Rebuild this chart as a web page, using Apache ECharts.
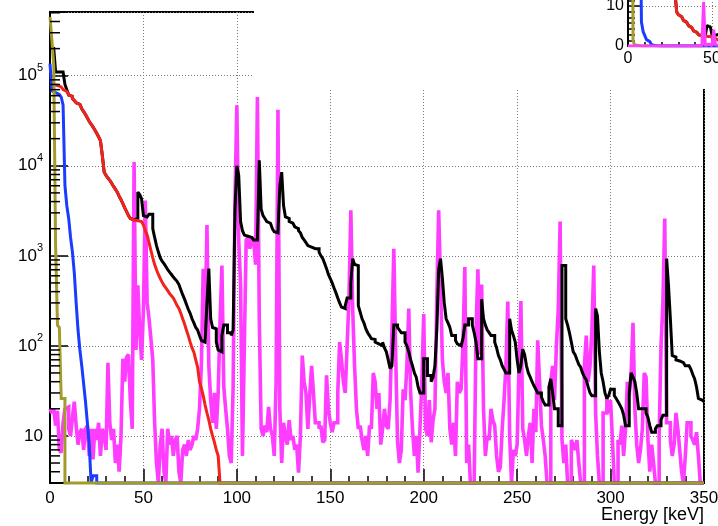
<!DOCTYPE html>
<html><head><meta charset="utf-8">
<script src="https://cdn.jsdelivr.net/npm/echarts@6/dist/echarts.min.js"></script>
<style>html,body{margin:0;padding:0;background:#fff}#c{width:718px;height:526px}</style>
</head><body><div id="c"></div>
<script>
// ---- data (counts per 1 keV bin, starting at 0 keV) ----
const BIN_KEV = 1;
const X_MAX = 350;
const xTickLabels = [0, 50, 100, 150, 200, 250, 300, 350];
const yDecades = [10, 100, 1000, 10000, 100000];
const insetYTicks = [0, 10];
const xTitle = 'Energy [keV]';

const oliveCounts = [4.5e5, 2.5e5, 1.3e5, 1.3e3, 170, 160, 26, 26];

const blueCounts = [1.36e5, 6.8e4, 6.5e4, 6.3e4, 6.2e4, 6.0e4, 5.8e4, 4.7e4, 6e3, 3.6e3,
  2.6e3, 1.6e3, 1.1e3, 650, 300, 150, 90, 60, 38, 24,
  14, 8, 0, 3.6, 3.6];

const redCounts = [8.1e4, 8.0e4, 7.9e4, 7.8e4, 7.6e4, 7.5e4, 7.2e4, 7.0e4, 6.7e4, 6.4e4,
  6.1e4, 5.9e4, 5.6e4, 5.3e4, 5.0e4, 4.8e4, 4.6e4, 4.3e4, 4.0e4, 3.7e4,
  3.4e4, 3.1e4, 2.9e4, 2.7e4, 2.5e4, 2.3e4, 2.1e4, 1.9e4, 1.3e4, 8.5e3,
  7.8e3, 7.3e3, 6.9e3, 6.4e3, 5.9e3, 5.5e3, 5.1e3, 4.6e3, 4.2e3, 3.8e3,
  3.4e3, 3.1e3, 2.8e3, 2.6e3, 2.5e3, 2.45e3, 2.45e3, 2.4e3, 2.4e3, 2.3e3,
  2.2e3, 1.9e3, 1.7e3, 1.4e3, 1150, 950, 800, 700, 620, 560,
  510, 470, 440, 410, 380, 360, 340, 310, 280, 260,
  230, 200, 175, 150, 130, 110, 95, 85, 70, 58,
  40, 34, 28, 22, 18, 15, 12, 10, 8.5, 7,
  6];

const blackCounts = [2e5, 2e5, 2e5, 1.1e5, 1.1e5, 1.1e5, 1.1e5, 1.1e5, 8e4, 7e4,
  6.1e4, 5.9e4, 5.6e4, 5.3e4, 5.0e4, 4.8e4, 4.6e4, 4.3e4, 4.0e4, 3.7e4,
  3.4e4, 3.1e4, 2.9e4, 2.7e4, 2.5e4, 2.3e4, 2.1e4, 1.9e4, 1.3e4, 8.5e3,
  7.8e3, 7.3e3, 6.9e3, 6.4e3, 5.9e3, 5.5e3, 5.1e3, 4.6e3, 4.2e3, 3.8e3,
  3.4e3, 3.1e3, 2.8e3, 2.6e3, 2.5e3, 2.5e3, 2.6e3, 5.1e3, 4.8e3, 4.3e3,
  2.8e3, 2.7e3, 2.6e3, 2.9e3, 2.9e3, 2.0e3, 1.6e3, 1.3e3, 1.1e3, 950,
  870, 820, 760, 700, 660, 620, 580, 550, 520, 480,
  420, 370, 330, 290, 255, 230, 200, 180, 160, 150,
  130, 115, 110, 105, 300, 720, 200, 160, 155, 110,
  90, 86, 130, 170, 170, 140, 140, 130, 150, 3.3e3,
  1.0e4, 7.8e3, 2.4e3, 1.9e3, 1.7e3, 1.65e3, 1.6e3, 1.6e3, 1.6e3, 1.5e3,
  1.5e3, 1.5e3, 1.15e4, 3.3e3, 2.8e3, 2.6e3, 2.4e3, 2.3e3, 2.2e3, 2.0e3,
  1.85e3, 1.8e3, 1.8e3, 6e3, 8.5e3, 3.6e3, 2.7e3, 2.6e3, 2.4e3, 2.3e3,
  2.2e3, 2.1e3, 2.0e3, 1.9e3, 1.8e3, 1.6e3, 1.5e3, 1.4e3, 1.3e3, 1.25e3,
  1.2e3, 1.2e3, 1.2e3, 1.2e3, 1.1e3, 1.0e3, 930, 820, 720, 620,
  560, 500, 440, 390, 340, 300, 270, 260, 280, 340,
  340, 500, 930, 800, 780, 280, 237, 200, 180, 155,
  140, 130, 120, 118, 110, 105, 100, 100, 110, 95,
  86, 70, 56, 60, 170, 170, 160, 150, 140, 140,
  110, 100, 86, 70, 60, 50, 45, 35, 30, 30,
  72, 72, 47, 47, 40, 45, 60, 150, 700, 930,
  560, 300, 200, 180, 160, 130, 130, 115, 105, 100,
  100, 120, 170, 170, 200, 200, 170, 140, 110, 72,
  72, 330, 200, 170, 150, 140, 130, 130, 110, 95,
  78, 70, 60, 55, 50, 50, 200, 150, 130, 110,
  70, 50, 60, 92, 80, 60, 50, 45, 40, 36,
  33, 30, 30, 27, 24, 22, 22, 35, 43, 30,
  20, 20, 13, 13, 780, 780, 200, 170, 140, 110,
  86, 80, 70, 62, 58, 50, 45, 42, 35, 30,
  28, 28, 260, 215, 86, 50, 40, 30, 26, 28,
  33, 33, 28, 26, 24, 22, 20, 17, 13, 13,
  30, 50, 45, 40, 30, 20, 20, 20, 20, 18,
  16, 13, 11, 11, 12, 13, 13, 15, 17, 17,
  930, 470, 200, 78, 75, 70, 68, 65, 65, 62,
  60, 60, 58, 55, 48, 43, 35, 26, 25, 24];

const magentaCounts = [20, 18, 20, 13, 19, 7, 6.5, 14, 20, 21,
  12, 10, 16, 24, 13, 8, 11, 12, 7, 12,
  13, 6, 12, 5.5, 12, 9, 14, 6, 12, 10,
  7, 65, 14, 9, 12, 5, 8, 4, 10, 72,
  40, 75, 80, 25, 12, 1.1e4, 90, 470, 150, 70,
  250, 4100, 300, 200, 120, 70, 14, 5, 0, 8,
  12, 4, 0, 12, 8, 10, 6, 9, 10, 4,
  0, 7, 8, 6, 9, 7, 8, 10, 9, 12,
  20, 60, 720, 150, 2200, 60, 25, 14, 30, 12,
  30, 180, 780, 35, 20, 12, 6, 5, 35, 4300,
  4.7e4, 1500, 470, 6, 100, 1500, 1600, 1200, 1600, 1500,
  800, 5.8e4, 200, 12, 10, 13, 11, 21, 12, 10,
  6, 40, 4.2e4, 20, 5, 14, 10, 8, 15, 9,
  10, 7, 8, 3.9, 10, 78, 40, 30, 12, 28,
  60, 30, 14, 14, 12, 13, 8.5, 9, 47, 20,
  14, 11, 14, 14, 30, 110, 70, 40, 30, 100,
  330, 3200, 250, 60, 20, 12, 13, 9, 7, 10,
  6, 13, 12, 50, 40, 20, 30, 8, 12, 20,
  13, 12, 25, 150, 1200, 80, 8.5, 5, 7, 33,
  25, 60, 260, 30, 12, 6, 10, 3.9, 12, 40,
  225, 12, 10, 25, 8.5, 15, 20, 330, 3200, 500,
  70, 40, 30, 50, 12, 8, 14, 6, 40, 30,
  33, 100, 750, 5, 8, 3, 0, 0, 150, 710,
  80, 480, 20, 6, 10, 9, 20, 15, 13, 6,
  4, 4.5, 12, 25, 60, 310, 10, 0, 7, 6,
  8, 60, 315, 12, 9, 6, 10, 14, 5, 20,
  11, 115, 40, 13, 9, 6, 0, 0, 40, 60,
  25, 100, 250, 2400, 9, 5, 8, 0, 0, 9,
  8, 7, 9, 5, 0, 0, 60, 130, 40, 60,
  150, 780, 18, 6, 0, 0, 18, 18, 28, 18,
  25, 9, 0, 0, 9, 8, 13, 6, 12, 40,
  28, 50, 180, 20, 8, 5, 7, 12, 50, 45,
  9, 4, 8, 5, 0, 0, 10, 100, 300, 2600,
  14, 14, 9, 6, 8, 18, 12, 7, 4, 0,
  6, 14, 14, 10, 9, 8, 11, 6, 0, 0];

// ---- helpers ----
const Y_MIN = 3, Y_MAX = 5.1e5;
const FONT = "'Liberation Sans', Arial, Helvetica, sans-serif";
const COLORS = {magenta: '#ff3dff', black: '#000000', red: '#f2231c', blue: '#1a3cff', olive: '#a39b2c'};

function histPoints(counts, scale, floor) {
  const n = X_MAX / BIN_KEV;
  const pts = [];
  for (let i = 0; i < n; i++) {
    const c = i < counts.length ? counts[i] / scale : 0;
    pts.push([i * BIN_KEV, Math.max(c, floor)]);
  }
  pts.push([X_MAX, pts[pts.length - 1][1]]);
  return pts;
}

const minorVals = [];
for (let e = 0; e <= 5; e++) {
  for (let m = 2; m <= 9; m++) {
    const v = m * Math.pow(10, e);
    if (v > Y_MIN && v < Y_MAX) minorVals.push([0, v]);
  }
}

function mainSeries(name, counts, color, width) {
  return {
    name, type: 'line', xAxisIndex: 0, yAxisIndex: 0, step: 'end', showSymbol: false,
    clip: false, data: histPoints(counts, 1, Y_MIN),
    lineStyle: {color, width: width, join: 'miter', miterLimit: 2}, itemStyle: {color}, z: 3
  };
}
function insetSeries(name, counts, color) {
  return {
    name, type: 'line', xAxisIndex: 1, yAxisIndex: 1, step: 'end', showSymbol: false,
    clip: true, data: histPoints(counts, 1000, 0),
    lineStyle: {color, width: 3}, itemStyle: {color}, z: 120
  };
}

const dotted = {color: '#7a7a7a', type: [1, 2], width: 1};

const chart = echarts.init(document.getElementById('c'), null, {renderer: 'canvas'});
chart.setOption({
  animation: false,
  backgroundColor: '#fff',
  grid: [
    {left: 50, top: 12, width: 654, height: 471, show: true, borderColor: '#000', borderWidth: 2,
      backgroundColor: 'transparent', containLabel: false, outerBoundsMode: 'none'},
    {left: 628, top: -34, width: 588, height: 80, show: false, containLabel: false, outerBoundsMode: 'none'}
  ],
  xAxis: [
    {
      type: 'value', gridIndex: 0, min: xTickLabels[0], max: xTickLabels[xTickLabels.length - 1], interval: 50,
      axisLine: {show: true, onZero: false, lineStyle: {color: '#000', width: 2}},
      axisTick: {show: true, inside: true, length: 14, lineStyle: {color: '#000', width: 1.5}},
      minorTick: {show: true, splitNumber: 5, length: 7, lineStyle: {color: '#000', width: 1.5}},
      splitLine: {show: true, lineStyle: dotted},
      axisLabel: {fontSize: 17, color: '#000', margin: 7, fontFamily: FONT, hideOverlap: false}
    },
    {
      type: 'value', gridIndex: 1, min: 0, max: 350, interval: 50, z: 110,
      axisLine: {show: true, onZero: false, lineStyle: {color: '#000', width: 2}},
      axisTick: {show: true, inside: true, length: 8, lineStyle: {color: '#000', width: 1.5}},
      minorTick: {show: true, splitNumber: 5, length: 4, lineStyle: {color: '#000', width: 1.5}},
      splitLine: {show: true, lineStyle: dotted},
      axisLabel: {fontSize: 16, color: '#000', margin: 5, fontFamily: FONT}
    }
  ],
  yAxis: [
    {
      type: 'log', logBase: 10, gridIndex: 0, min: Y_MIN, max: Y_MAX,
      axisLine: {show: true, onZero: false, lineStyle: {color: '#000', width: 2}},
      axisTick: {show: true, inside: true, length: 18, lineStyle: {color: '#000', width: 1.5}},
      minorTick: {show: false},
      splitLine: {show: true, lineStyle: dotted},
      axisLabel: {
        margin: 7, color: '#000', fontFamily: FONT,
        formatter: function (v) {
          const n = Math.log10(v), r = Math.round(n);
          if (Math.abs(n - r) > 1e-6 || yDecades.indexOf(Math.pow(10, r)) < 0) return '';
          return r === 1 ? '{a|10}' : '{a|10}{b|' + r + '}';
        },
        rich: {
          a: {fontSize: 17, fontFamily: FONT, color: '#000', lineHeight: 26},
          b: {fontSize: 11, fontFamily: FONT, color: '#000', verticalAlign: 'top', lineHeight: 12}
        }
      }
    },
    {
      type: 'value', gridIndex: 1, min: 0, max: 20, interval: 10, z: 110,
      axisLine: {show: true, onZero: false, lineStyle: {color: '#000', width: 2}},
      axisTick: {show: true, inside: true, length: 12, lineStyle: {color: '#000', width: 1.5}},
      minorTick: {show: true, splitNumber: 7, length: 7, lineStyle: {color: '#000', width: 1.5}},
      splitLine: {show: true, lineStyle: dotted},
      axisLabel: {fontSize: 16, color: '#000', margin: 4, fontFamily: FONT,
        formatter: v => insetYTicks.indexOf(v) >= 0 ? String(v) : ''}
    }
  ],
  graphic: [
    {type: 'rect', shape: {x: 254, y: 0, width: 464, height: 89}, style: {fill: '#fff'}, z: 100, silent: true},
    {type: 'text', x: 704, y: 515, z: 100, silent: true,
      style: {text: xTitle, fill: '#000', font: '18px ' + FONT, textAlign: 'right', textVerticalAlign: 'middle'}}
  ],
  series: [
    {
      type: 'custom', xAxisIndex: 0, yAxisIndex: 0, data: minorVals, z: 10, silent: true,
      renderItem: function (params, api) {
        const p = api.coord([0, api.value(1)]);
        return {type: 'line', shape: {x1: p[0], y1: p[1], x2: p[0] + 10, y2: p[1]},
          style: {stroke: '#000', lineWidth: 1.5}};
      }
    },
    mainSeries('magenta', magentaCounts, COLORS.magenta, 3.6),
    mainSeries('black', blackCounts, COLORS.black, 3),
    mainSeries('red', redCounts, COLORS.red, 3),
    mainSeries('blue', blueCounts, COLORS.blue, 3),
    mainSeries('olive', oliveCounts, COLORS.olive, 3),
    insetSeries('olive-i', oliveCounts, COLORS.olive),
    insetSeries('blue-i', blueCounts, COLORS.blue),
    insetSeries('black-i', blackCounts, COLORS.black),
    insetSeries('red-i', redCounts, COLORS.red),
    insetSeries('magenta-i', magentaCounts, COLORS.magenta)
  ]
});
</script>
</body></html>
